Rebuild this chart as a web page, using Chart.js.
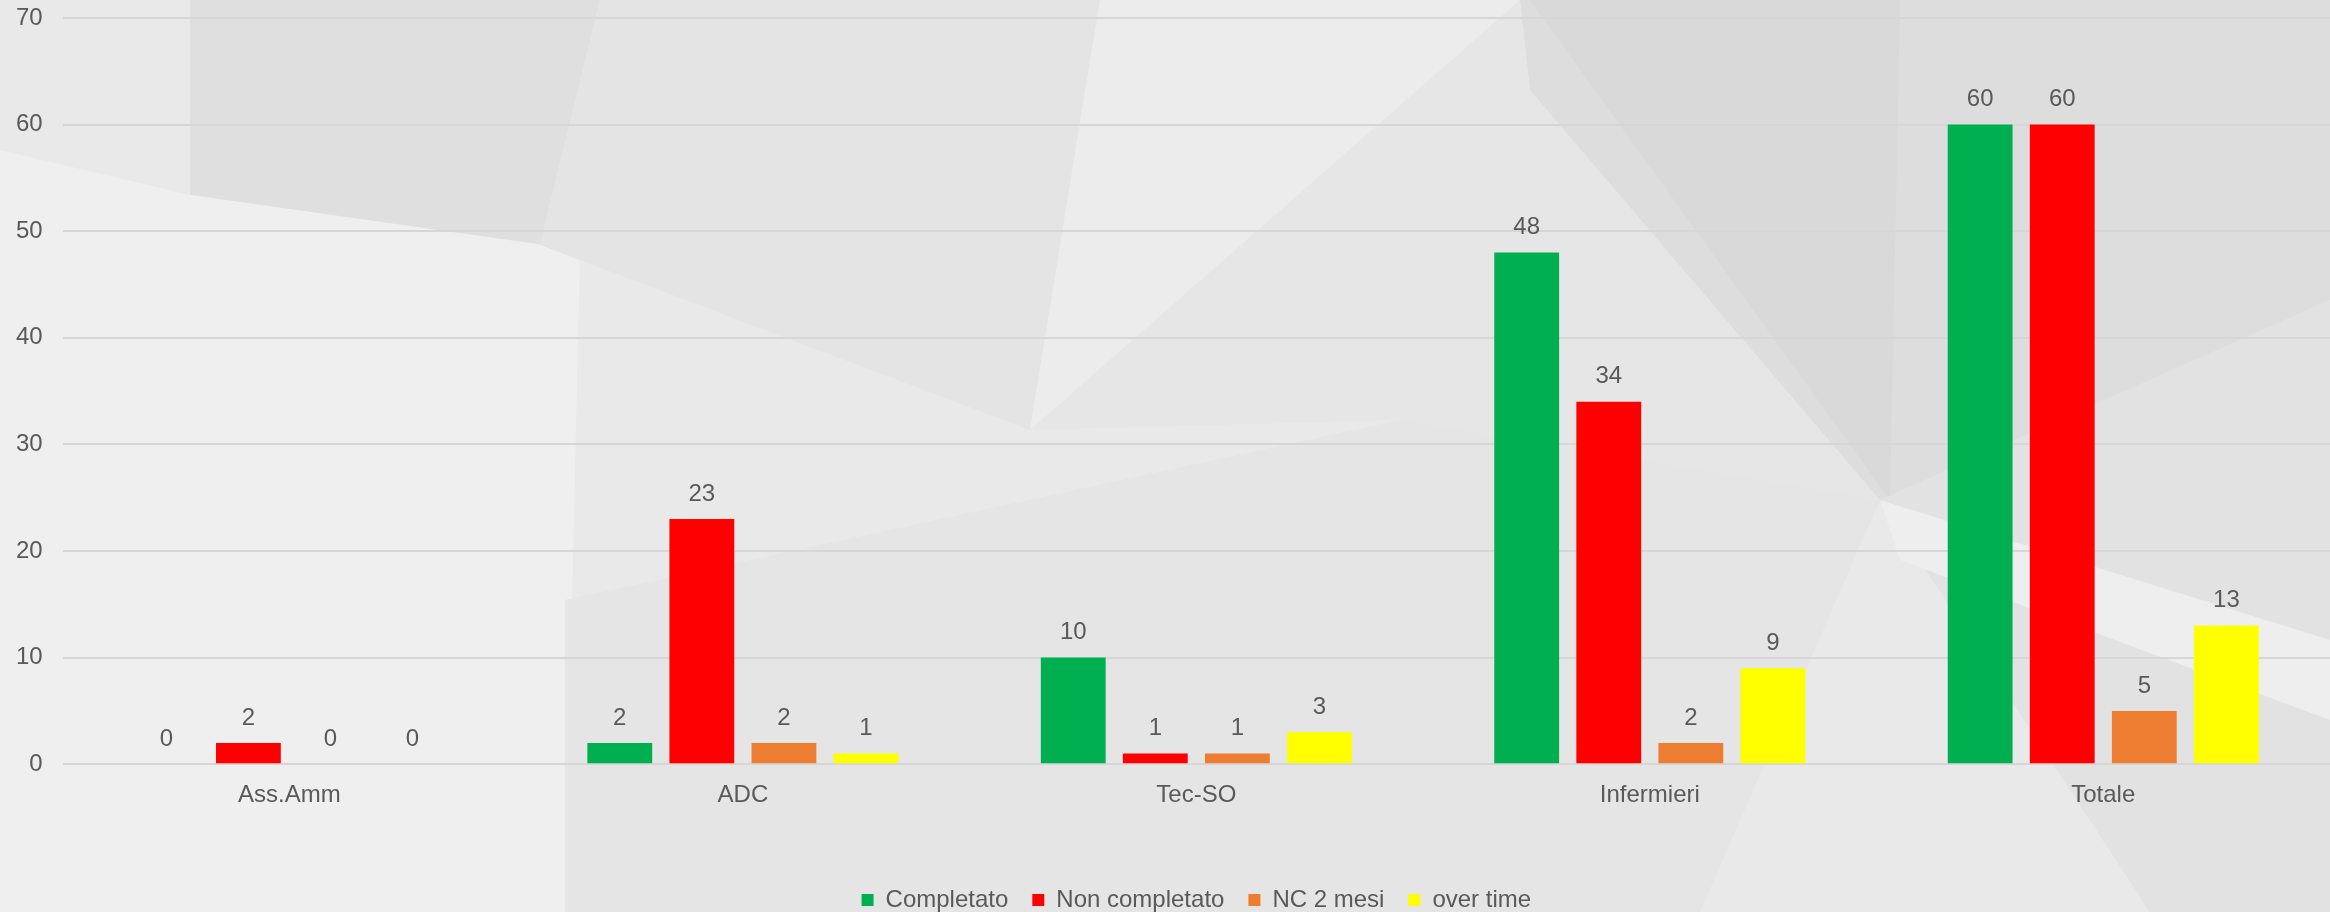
<!DOCTYPE html>
<html>
<head>
<meta charset="utf-8">
<script src="https://cdn.jsdelivr.net/npm/chart.js@4"></script>
<style>
  html, body { margin: 0; padding: 0; background: #e8e8e8; }
  #wrap { width: 2330px; height: 912px; }
</style>
</head>
<body>
<div id="wrap"><canvas id="chart"></canvas></div>
<script>
// Chart data
const categories = ['Ass.Amm', 'ADC', 'Tec-SO', 'Infermieri', 'Totale'];
const completato = [0, 2, 10, 48, 60];
const nonCompletato = [2, 23, 1, 34, 60];
const nc2Mesi = [0, 2, 1, 2, 5];
const overTime = [0, 1, 3, 9, 13];
const yTicks = [0, 10, 20, 30, 40, 50, 60, 70];

const textColor = '#595959';
const fontFamily = '"Liberation Sans", Arial, sans-serif';

// Faint grey polygons behind the chart, like the slide background
const backgroundPlugin = {
    id: 'backgroundShapes',
    beforeDraw(chart) {
        const ctx = chart.ctx;
        ctx.save();
        ctx.fillStyle = '#e9e9e9';
        ctx.fillRect(0, 0, chart.width, chart.height);
        const shapes = [
            ['#dfdfdf', [[190, 0], [600, 0], [540, 245], [190, 195]]],
            ['#efefef', [[0, 150], [190, 195], [580, 250], [565, 912], [0, 912]]],
            ['#e4e4e4', [[600, 0], [1100, 0], [1030, 430], [540, 245]]],
            ['#e6e6e6', [[1030, 430], [1520, 0], [1530, 90], [1880, 500], [1400, 420]]],
            ['#ececec', [[1100, 0], [1520, 0], [1030, 430]]],
            ['#dddddd', [[1520, 0], [2330, 0], [2330, 300], [1880, 500], [1530, 90]]],
            ['#d9d9d9', [[1530, 0], [1900, 0], [1890, 500]]],
            ['#e2e2e2', [[1880, 500], [2330, 300], [2330, 912], [2150, 912]]],
            ['#eeeeee', [[1880, 500], [2330, 640], [2330, 720], [1900, 560]]],
            ['#e5e5e5', [[565, 600], [1400, 420], [1880, 500], [1700, 912], [565, 912]]]
        ];
        shapes.forEach(([color, pts]) => {
            ctx.fillStyle = color;
            ctx.beginPath();
            pts.forEach(([x, y], i) => i ? ctx.lineTo(x, y) : ctx.moveTo(x, y));
            ctx.closePath();
            ctx.fill();
        });
        ctx.restore();
    }
};

// Writes the value above each bar
const valueLabelPlugin = {
    id: 'valueLabels',
    afterDatasetsDraw(chart) {
        const ctx = chart.ctx;
        ctx.save();
        ctx.fillStyle = textColor;
        ctx.font = '24px ' + fontFamily;
        ctx.textAlign = 'center';
        ctx.textBaseline = 'middle';
        chart.data.datasets.forEach((ds, i) => {
            chart.getDatasetMeta(i).data.forEach((bar, j) => {
                ctx.fillText(String(ds.data[j]), bar.x, bar.y - 25);
            });
        });
        ctx.restore();
    }
};

const ctx = document.getElementById('chart').getContext('2d');
const chart = new Chart(ctx, {
    type: 'bar',
    data: {
        labels: categories,
        datasets: [
            { label: 'Completato', data: completato, backgroundColor: '#00b050' },
            { label: 'Non completato', data: nonCompletato, backgroundColor: '#ff0000' },
            { label: 'NC 2 mesi', data: nc2Mesi, backgroundColor: '#ed7d31' },
            { label: 'over time', data: overTime, backgroundColor: '#ffff00' }
        ]
    },
    options: {
        responsive: true,
        maintainAspectRatio: false,
        animation: false,
        datasets: {
            bar: { categoryPercentage: 0.724, barPercentage: 0.79 }
        },
        layout: { padding: { left: -4, right: 0, top: 0, bottom: -10 } },
        scales: {
            x: {
                grid: { display: false },
                border: { display: false },
                ticks: { color: textColor, font: { family: fontFamily, size: 24 }, padding: 9 },
                afterFit(scale) { scale.height += 45; }
            },
            y: {
                min: 0,
                max: 70,
                afterBuildTicks(scale) { scale.ticks = yTicks.map(v => ({ value: v })); },
                afterFit(scale) { scale.paddingTop = 18; },
                grid: { color: '#d6d6d6', lineWidth: 2, drawTicks: false },
                border: { display: false },
                ticks: { color: textColor, font: { family: fontFamily, size: 24 }, padding: 20 }
            }
        },
        plugins: {
            legend: {
                position: 'bottom',
                fullSize: false,
                labels: {
                    color: textColor,
                    font: { family: fontFamily, size: 24 },
                    boxWidth: 12,
                    boxHeight: 12,
                    padding: 24
                }
            },
            tooltip: { enabled: false }
        }
    },
    plugins: [backgroundPlugin, valueLabelPlugin]
});
</script>
</body>
</html>
